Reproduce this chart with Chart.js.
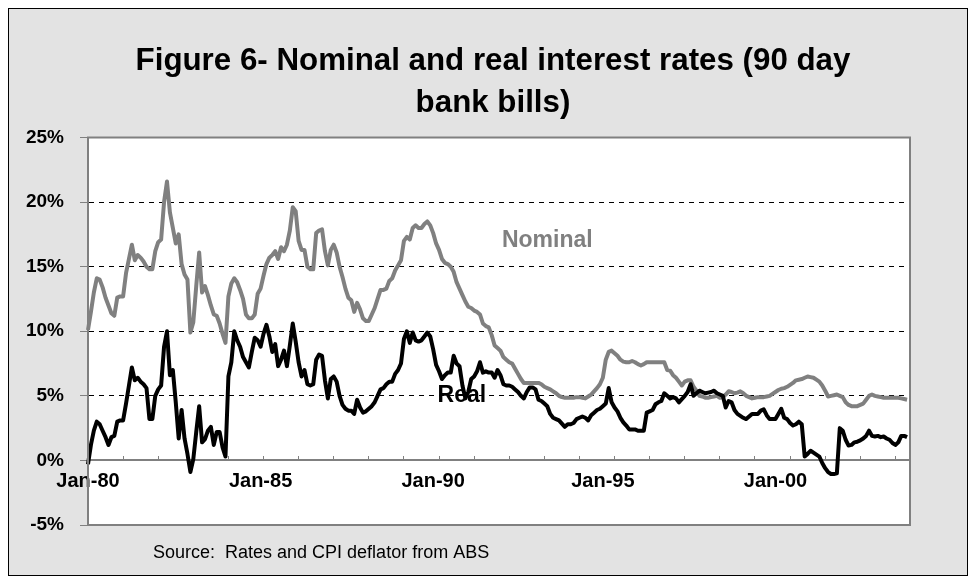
<!DOCTYPE html>
<html>
<head>
<meta charset="utf-8">
<title>Figure 6 - Nominal and real interest rates</title>
<script src="https://cdn.jsdelivr.net/npm/chart.js@4.4.1/dist/chart.umd.min.js"></script>
<style>
    html, body { margin: 0; padding: 0; background: #fff; }
    #wrap { width: 976px; height: 584px; position: relative; }
</style>
</head>
<body>
<div id="wrap"><canvas id="rateChart"></canvas></div>
<script>
// --- DATA: monthly 90 day bank bill rates (%), Jan-80 onwards ---
const startYear = 1980;
const monthNames = ['Jan', 'Feb', 'Mar', 'Apr', 'May', 'Jun', 'Jul', 'Aug', 'Sep', 'Oct', 'Nov', 'Dec'];

const nominal = [
    10.1, 11.5, 13.0, 14.1, 14.0, 13.4, 12.6, 12.0, 11.4, 11.2, 12.6, 12.7,   // 1980
    12.7, 14.5, 15.6, 16.7, 15.5, 15.9, 15.7, 15.4, 15.0, 14.8, 14.8, 16.2,   // 1981
    16.9, 17.1, 20.0, 21.6, 19.2, 18.0, 16.8, 17.5, 15.2, 14.4, 14.0, 9.9,    // 1982
    10.7, 13.5, 16.1, 13.0, 13.5, 12.8, 12.0, 11.3, 11.2, 10.6, 9.8, 9.1,     // 1983
    12.7, 13.7, 14.1, 13.8, 13.2, 12.5, 11.3, 11.0, 11.0, 11.3, 12.9, 13.3,   // 1984
    14.3, 15.2, 15.7, 15.9, 16.2, 15.6, 16.5, 16.2, 16.7, 17.8, 19.6, 19.3,   // 1985
    17.0, 16.3, 16.3, 15.0, 14.8, 14.8, 17.6, 17.8, 17.9, 16.2, 15.1, 16.3,   // 1986
    16.7, 16.1, 15.0, 14.2, 13.3, 12.6, 12.4, 11.5, 12.2, 11.7, 11.0, 10.8,   // 1987
    10.8, 11.3, 11.8, 12.5, 13.2, 13.2, 13.3, 13.9, 14.1, 14.7, 15.1, 15.5,   // 1988
    17.0, 17.3, 17.1, 18.0, 18.2, 18.0, 18.0, 18.3, 18.5, 18.2, 17.6, 16.8,   // 1989
    16.3, 15.6, 15.3, 15.2, 15.0, 14.6, 13.8, 13.3, 12.8, 12.3, 11.9, 11.8,   // 1990
    11.6, 11.5, 11.3, 10.6, 10.4, 10.3, 9.7, 8.9, 8.7, 8.5, 8.0, 7.8,         // 1991
    7.6, 7.5, 7.1, 6.7, 6.3, 6.0, 6.0, 6.0, 6.0, 6.0, 6.0, 5.9,               // 1992
    5.7, 5.6, 5.5, 5.35, 5.2, 5.0, 4.9, 4.85, 4.85, 4.85, 4.85, 4.9,          // 1993
    4.9, 4.85, 4.8, 4.95, 5.1, 5.35, 5.6, 5.9, 6.4, 7.8, 8.4, 8.5,            // 1994
    8.3, 8.1, 7.8, 7.65, 7.6, 7.6, 7.7, 7.6, 7.45, 7.35, 7.45, 7.6,           // 1995
    7.6, 7.6, 7.6, 7.6, 7.6, 7.6, 7.0, 6.95, 6.6, 6.4, 6.1, 5.8,              // 1996
    6.1, 6.2, 6.2, 5.7, 5.4, 5.0, 4.95, 4.85, 4.85, 4.9, 4.95, 5.0,           // 1997
    4.85, 4.9, 5.1, 5.35, 5.3, 5.2, 5.25, 5.35, 5.2, 5.0, 4.9, 4.8,           // 1998
    4.85, 4.9, 4.9, 4.9, 4.95, 5.0, 5.15, 5.3, 5.45, 5.55, 5.6, 5.7,          // 1999
    5.85, 6.0, 6.2, 6.25, 6.3, 6.4, 6.5, 6.45, 6.4, 6.25, 6.1, 5.8,           // 2000
    5.4, 4.95, 5.0, 5.05, 5.1, 5.0, 4.9, 4.5, 4.3, 4.2, 4.2, 4.2,             // 2001
    4.3, 4.4, 4.7, 5.0, 5.1, 5.0, 4.95, 4.9, 4.85, 4.85, 4.85, 4.85,          // 2002
    4.85, 4.85, 4.8, 4.75, 4.7                                                // 2003
];

const real = [
    -0.3, 1.2, 2.3, 3.0, 2.8, 2.3, 1.8, 1.2, 1.8, 1.9, 3.0, 3.1,              // 1980
    3.1, 4.4, 5.8, 7.2, 6.2, 6.4, 6.1, 5.9, 5.6, 3.2, 3.2, 5.0,               // 1981
    5.5, 5.8, 8.8, 10.0, 6.6, 7.0, 4.5, 1.7, 3.9, 1.7, 0.5, -0.9,             // 1982
    0.1, 2.2, 4.2, 1.4, 1.65, 2.3, 2.6, 1.2, 2.2, 2.2, 1.0, 0.3,              // 1983
    6.5, 7.6, 10.0, 9.3, 8.8, 8.0, 7.6, 7.2, 8.4, 9.5, 9.3, 8.8,              // 1984
    9.8, 10.5, 9.6, 8.4, 9.0, 7.3, 7.8, 8.5, 7.3, 8.9, 10.6, 9.2,             // 1985
    7.6, 6.5, 7.0, 5.9, 5.8, 5.9, 7.8, 8.2, 8.1, 6.2, 4.8, 6.3,               // 1986
    6.5, 6.1, 5.0, 4.3, 4.0, 3.85, 3.85, 3.6, 4.7, 4.1, 3.7, 3.8,             // 1987
    4.0, 4.2, 4.5, 5.0, 5.5, 5.6, 5.9, 6.1, 6.1, 6.7, 7.0, 7.5,               // 1988
    9.4, 10.0, 9.1, 9.9, 9.3, 9.2, 9.3, 9.6, 9.9, 9.6, 8.6, 7.4,              // 1989
    6.9, 6.3, 6.6, 6.8, 6.8, 8.1, 7.5, 7.3, 5.8, 4.8, 5.3, 6.3,               // 1990
    6.5, 6.9, 7.6, 6.8, 6.9, 6.8, 6.8, 6.4, 7.0, 6.6, 5.9, 5.8,               // 1991
    5.8, 5.7, 5.5, 5.3, 5.0, 4.8, 5.3, 5.65, 5.65, 5.5, 4.7, 4.6,             // 1992
    4.4, 4.2, 3.6, 3.3, 3.2, 3.1, 2.85, 2.6, 2.8, 2.8, 2.9, 3.2,              // 1993
    3.3, 3.4, 3.3, 3.1, 3.5, 3.7, 3.9, 4.0, 4.2, 4.4, 5.6, 4.5,               // 1994
    4.1, 3.8, 3.3, 2.95, 2.7, 2.4, 2.4, 2.4, 2.3, 2.3, 2.3, 3.7,              // 1995
    3.8, 3.9, 4.35, 4.5, 4.6, 5.2, 5.0, 4.8, 4.9, 4.8, 4.5, 4.75,             // 1996
    5.0, 5.3, 5.9, 5.0, 5.2, 5.4, 5.3, 5.2, 5.25, 5.3, 5.4, 5.2,              // 1997
    5.1, 5.0, 4.1, 4.6, 4.5, 3.9, 3.6, 3.45, 3.3, 3.2, 3.4, 3.6,              // 1998
    3.6, 3.6, 3.85, 3.95, 3.5, 3.2, 3.2, 3.2, 3.6, 4.0, 3.3, 3.2,             // 1999
    2.9, 2.7, 2.8, 3.0, 2.8, 0.3, 0.5, 0.75, 0.6, 0.45, 0.3, -0.2,            // 2000
    -0.6, -0.9, -1.05, -1.05, -1.0, 2.5, 2.3, 1.6, 1.15, 1.2, 1.4, 1.45,      // 2001
    1.55, 1.7, 1.9, 2.3, 1.9, 1.85, 1.9, 1.8, 1.85, 1.7, 1.6, 1.35,           // 2002
    1.2, 1.4, 1.9, 1.9, 1.8                                                   // 2003
];

// axis labels and the month slots the original chart printed them under
const tickLabels = ['Jan-80', 'Jan-85', 'Jan-90', 'Jan-95', 'Jan-00'];
const tickSlots = [0, 59, 118, 176, 235];
const seriesNames = ['Nominal', 'Real'];
const sourceNote = 'Source:  Rates and CPI deflator from ABS';

// one category per month (plus one spare slot at the end, like the original frame)
const months = [];
for (let i = 0; i <= nominal.length; i++) {
    const yr = String(startYear + Math.floor(i / 12)).slice(2);
    months.push(monthNames[i % 12] + '-' + yr);
}

const FONT = '"Liberation Sans", Arial, Helvetica, sans-serif';
const GREY_LINE = '#808080';

// --- background, outer frame and white plot area ---
const chartBackdrop = {
    id: 'chartBackdrop',
    beforeDraw(chart) {
        const { ctx, chartArea } = chart;
        ctx.save();
        ctx.fillStyle = '#ffffff';
        ctx.fillRect(0, 0, chart.width, chart.height);
        ctx.fillStyle = '#e3e3e3';
        ctx.fillRect(8, 8, chart.width - 16, chart.height - 16);
        ctx.strokeStyle = '#000000';
        ctx.lineWidth = 1;
        ctx.strokeRect(8.5, 8.5, chart.width - 17, chart.height - 17);
        ctx.fillStyle = '#ffffff';
        ctx.fillRect(chartArea.left, chartArea.top, chartArea.width, chartArea.height);
        ctx.restore();
    },
    afterDatasetsDraw(chart) {
        const { ctx, chartArea } = chart;
        ctx.save();
        ctx.strokeStyle = GREY_LINE;
        ctx.lineWidth = 2;
        ctx.strokeRect(chartArea.left, chartArea.top, chartArea.width, chartArea.height);
        ctx.restore();
    }
};

// --- series names written next to the lines, plus the source line ---
const lineNotes = {
    id: 'lineNotes',
    afterDraw(chart) {
        const { ctx } = chart;
        const x = chart.scales.x;
        const y = chart.scales.y;
        ctx.save();
        ctx.textBaseline = 'middle';
        ctx.textAlign = 'left';
        ctx.font = 'bold 23px ' + FONT;
        ctx.fillStyle = GREY_LINE;
        ctx.fillText(seriesNames[0], x.getPixelForValue(141.5), y.getPixelForValue(17.0));
        ctx.fillStyle = '#000000';
        ctx.fillText(seriesNames[1], x.getPixelForValue(119.5), y.getPixelForValue(5.05));
        ctx.font = '18px ' + FONT;
        ctx.fillText(sourceNote, 153, 553);
        ctx.restore();
    }
};

const ctx = document.getElementById('rateChart').getContext('2d');

const rateChart = new Chart(ctx, {
    type: 'line',
    data: {
        labels: months,
        datasets: [{
            label: seriesNames[0],
            data: nominal,
            borderColor: GREY_LINE,
            borderWidth: 4,
            pointRadius: 0,
            tension: 0,
            borderJoinStyle: 'round',
            fill: false,
            order: 1
        }, {
            label: seriesNames[1],
            data: real,
            borderColor: '#000000',
            borderWidth: 4,
            pointRadius: 0,
            tension: 0,
            borderJoinStyle: 'round',
            fill: false,
            order: 0
        }]
    },
    options: {
        responsive: true,
        maintainAspectRatio: false,
        animation: false,
        layout: {
            padding: { left: 10, right: 0, top: 0, bottom: 59 }
        },
        plugins: {
            legend: { display: false },
            tooltip: { enabled: false },
            title: {
                display: true,
                text: ['Figure 6- Nominal and real interest rates (90 day', 'bank bills)'],
                color: '#000000',
                font: { family: FONT, size: 31.3, weight: 'bold', lineHeight: 1.35 },
                padding: { top: 40, bottom: 13 }
            }
        },
        scales: {
            x: {
                type: 'category',
                position: { y: 0 },
                grid: {
                    drawOnChartArea: false,
                    drawTicks: true,
                    tickLength: -5,
                    tickWidth: 1,
                    tickColor: c => (c.index % 12 === 0 && c.index > 0) ? GREY_LINE : 'rgba(0,0,0,0)',
                    color: 'rgba(0,0,0,0)'
                },
                border: { display: true, color: GREY_LINE, width: 2 },
                ticks: {
                    autoSkip: false,
                    maxRotation: 0,
                    minRotation: 0,
                    padding: 14,
                    color: '#000000',
                    font: { family: FONT, size: 20, weight: 'bold' },
                    callback: function(value, index) {
                        const k = tickSlots.indexOf(index);
                        return k >= 0 ? tickLabels[k] : '';
                    }
                }
            },
            y: {
                min: -5,
                max: 25,
                afterFit: scale => { scale.width = 78; },
                grid: {
                    color: c => ([-5, 0, 25].includes(c.tick.value) ? 'rgba(0,0,0,0)' : '#000000'),
                    lineWidth: 1,
                    tickLength: 8,
                    tickColor: GREY_LINE,
                    tickBorderDash: [],
                    borderDash: [5, 5]
                },
                border: { display: true, color: GREY_LINE, width: 2, dash: [5, 5] },
                ticks: {
                    stepSize: 5,
                    padding: 16,
                    color: '#000000',
                    font: { family: FONT, size: 19, weight: 'bold' },
                    callback: v => v + '%'
                }
            },
            // empty strip on the right so the plot ends where the original does
            yRight: {
                position: 'right',
                min: -5,
                max: 25,
                afterFit: scale => { scale.width = 66; },
                grid: { display: false },
                border: { display: false },
                ticks: { display: false }
            }
        }
    },
    plugins: [chartBackdrop, lineNotes]
});
</script>
</body>
</html>
